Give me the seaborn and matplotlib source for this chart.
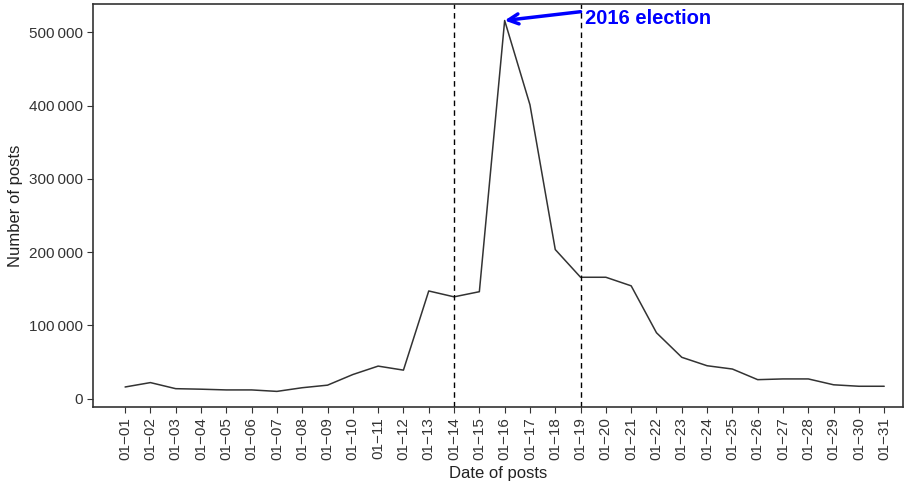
import numpy as np
import pandas as pd
import matplotlib
matplotlib.use("Agg")
import matplotlib.pyplot as plt
import seaborn as sns

# daily post counts, January
dates = [f"01\u2212{d:02d}" for d in range(1, 32)]
posts = [16000, 22000, 13700, 13000, 12000, 12000, 10000, 15000, 18500, 33000,
         44500, 39000, 147000, 139000, 146000, 516000, 401000, 203500, 165700, 165700,
         154000, 90000, 56500, 45000, 40500, 26000, 27000, 27000, 19000, 17000, 17000]
marker_days = ["01\u221214", "01\u221219"]
y_ticks = [0, 100000, 200000, 300000, 400000, 500000]
y_tick_labels = ["0", "100\u2009000", "200\u2009000", "300\u2009000", "400\u2009000", "500\u2009000"]

df = pd.DataFrame({"day": np.arange(len(dates)), "posts": posts})

sns.set_style("white")
plt.rcParams["font.family"] = ["Liberation Sans", "DejaVu Sans"]

fig = plt.figure(figsize=(9.05, 4.86), dpi=100)
ax = fig.add_axes([0.103, 0.163, 0.895, 0.828])

sns.lineplot(data=df, x="day", y="posts", ax=ax, color="#333333", linewidth=1.1)

for d in marker_days:
    ax.axvline(dates.index(d), color="black", linestyle=(0, (4, 3)), linewidth=1.0)

# annotation for the peak
peak = int(np.argmax(posts))
ax.annotate("", xy=(peak, posts[peak]), xytext=(dates.index("01\u221219"), 528000),
            arrowprops=dict(arrowstyle="->", color="blue", lw=2.5, mutation_scale=18,
                            shrinkA=0, shrinkB=0))
ax.text(dates.index("01\u221219") + 0.17, 519000, "2016 election", color="blue",
        fontsize=14.5, fontweight="bold", va="center", ha="left")

ax.set_xlim(-1.26, 30.75)
ax.set_ylim(-11000, 538000)
ax.set_xticks(df["day"])
ax.set_xticklabels(dates, rotation=90, fontsize=11, color="#333333")
ax.set_yticks(y_ticks)
ax.set_yticklabels(y_tick_labels, fontsize=11, color="#333333")
ax.tick_params(axis="both", direction="out", length=4, width=0.8, color="#333333", bottom=True, left=True)
for s in ax.spines.values():
    s.set_visible(True)
    s.set_color("#333333")
    s.set_linewidth(1.2)

ax.set_xlabel("Date of posts", fontsize=12, color="#222222")
ax.set_ylabel("Number of posts", fontsize=12, color="#222222")

fig.savefig("out.png", dpi=100)
